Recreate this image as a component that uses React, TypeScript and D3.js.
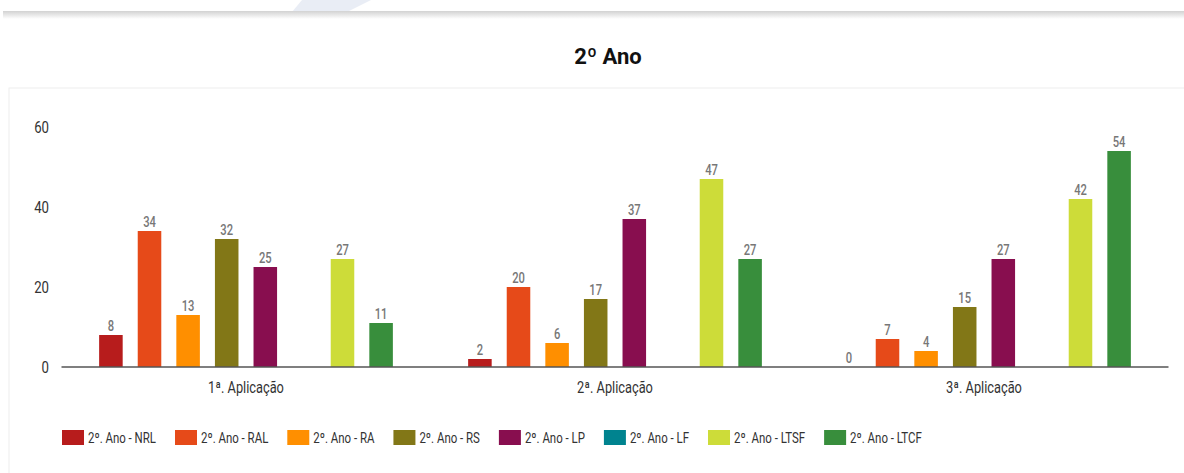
import { useEffect, useRef } from 'react';
import * as d3 from 'd3';

// ── data ────────────────────────────────────────────────────────────────────
const CATEGORIES = ['1ª. Aplicação', '2ª. Aplicação', '3ª. Aplicação'];
const SERIES = [
  '2º. Ano - NRL', '2º. Ano - RAL', '2º. Ano - RA', '2º. Ano - RS',
  '2º. Ano - LP', '2º. Ano - LF', '2º. Ano - LTSF', '2º. Ano - LTCF',
];
const NRL = [8, 2, 0];
const RAL = [34, 20, 7];
const RA = [13, 6, 4];
const RS = [32, 17, 15];
const LP = [25, 37, 27];
const LF: (number | null)[] = [null, null, null];
const LTSF = [27, 47, 42];
const LTCF = [11, 27, 54];
const Y_TICKS = [0, 20, 40, 60];
const COLORS = ['#b71c1c', '#e64a19', '#ff8f00', '#827717', '#880e4f', '#00838f', '#cddc39', '#388e3c'];

const VALUES: (number | null)[][] = [NRL, RAL, RA, RS, LP, LF, LTSF, LTCF];

const W = 1184, H = 473;
const FONT = 'Roboto, "Noto Sans", sans-serif';

export default function App() {
  const svgRef = useRef<SVGSVGElement>(null);

  useEffect(() => {
    if (!svgRef.current) return;
    const svg = d3.select(svgRef.current);
    svg.selectAll('*').remove();

    // header strip + faint decoration
    const defs = svg.append('defs');
    const sh = defs.append('linearGradient').attr('id', 'shadow')
      .attr('x1', '0%').attr('y1', '0%').attr('x2', '0%').attr('y2', '100%');
    sh.append('stop').attr('offset', '0%').attr('stop-color', '#d2d2d2');
    sh.append('stop').attr('offset', '100%').attr('stop-color', '#ffffff');
    svg.append('polygon').attr('points', '302,0 371,0 347,12 292,12').attr('fill', '#e9edf5');
    svg.append('rect').attr('x', 3).attr('y', 11).attr('width', W).attr('height', 8).attr('fill', 'url(#shadow)');

    // title
    svg.append('text')
      .attr('x', 608).attr('y', 64)
      .attr('text-anchor', 'middle')
      .style('font-family', FONT).style('font-weight', 700).style('font-size', '22px')
      .style('fill', '#111')
      .text('2º Ano');

    // panel
    svg.append('rect').attr('x', 9).attr('y', 88).attr('width', W).attr('height', 400)
      .attr('fill', '#fff').attr('stroke', '#eeeeee').attr('stroke-width', 1);

    const x0 = d3.scaleBand<string>().domain(CATEGORIES).range([61.5, 1168.5]).padding(0);
    const x1 = d3.scaleBand<string>().domain(SERIES).range([0, x0.bandwidth()])
      .paddingInner(0.39).paddingOuter(0.975);
    const y = d3.scaleLinear().domain([0, 60]).range([367, 127]);

    // condensed-looking text: squeeze glyphs horizontally
    const condText = (g: any, x: number, yy: number, txt: string, size: number, anchor: string, fill: string, weight = 400, sx = 0.86) =>
      g.append('text')
        .attr('transform', `translate(${x},${yy}) scale(${sx},1)`)
        .attr('text-anchor', anchor)
        .style('font-family', FONT).style('font-size', `${size}px`).style('font-weight', weight)
        .style('fill', fill)
        .text(txt);

    // y ticks
    Y_TICKS.forEach(t => condText(svg, 49, y(t) + 5.5, String(t), 16.5, 'end', '#333', 400, 0.8));

    // bars
    CATEGORIES.forEach((cat, ci) => {
      SERIES.forEach((s, si) => {
        const v = VALUES[si][ci];
        if (v == null) return;
        const bx = (x0(cat) ?? 0) + (x1(s) ?? 0);
        svg.append('rect')
          .attr('x', bx).attr('y', y(v))
          .attr('width', x1.bandwidth()).attr('height', y(0) - y(v))
          .attr('fill', COLORS[si]);
        condText(svg, bx + x1.bandwidth() / 2, y(v) - 4, String(v), 14, 'middle', '#777', 500, 0.8);
      });
    });

    // baseline
    svg.append('line').attr('x1', 61.5).attr('x2', 1168.5).attr('y1', y(0)).attr('y2', y(0))
      .attr('stroke', '#555').attr('stroke-width', 1.5);

    // category labels
    CATEGORIES.forEach(cat => condText(svg, (x0(cat) ?? 0) + x0.bandwidth() / 2, 393, cat, 16, 'middle', '#333', 400, 0.8));

    // legend
    const LSX = 0.79;
    let lx = 62;
    SERIES.forEach((s, si) => {
      svg.append('rect').attr('x', lx).attr('y', 430).attr('width', 22).attr('height', 15).attr('fill', COLORS[si]);
      const t = condText(svg, lx + 26, 442.5, s, 14.5, 'start', '#333', 400, LSX);
      const w = (t.node() as SVGTextElement).getComputedTextLength() * LSX;
      lx += 26 + w + 19;
    });
  }, []);

  return (
    <svg ref={svgRef} width={W} height={H} viewBox={`0 0 ${W} ${H}`}
      style={{ position: 'absolute', left: 0, top: 0, display: 'block', background: '#fff' }} />
  );
}
